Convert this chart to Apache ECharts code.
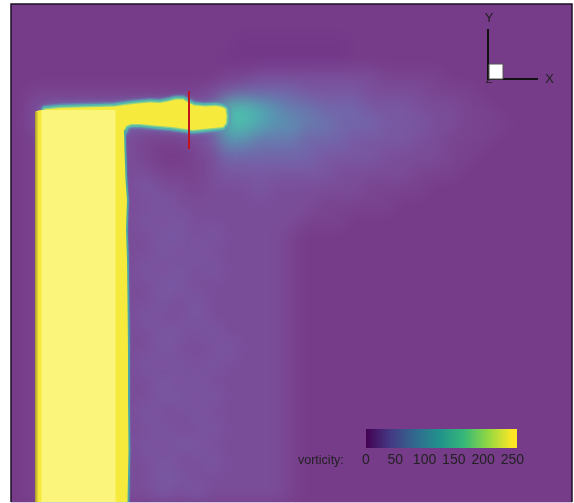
<!DOCTYPE html>
<html>
<head>
<meta charset="utf-8">
<script src="https://cdn.jsdelivr.net/npm/echarts@6/dist/echarts.min.js"></script>
<style>
  html, body { margin: 0; padding: 0; background: #fff; }
  #wrap { position: relative; width: 574px; height: 503px; overflow: hidden; background: #fff; }
  #fieldClip { position: absolute; left: 11px; top: 4px; width: 561px; height: 498px; overflow: hidden; background: #763b89; }
  #field { position: absolute; left: -30px; top: -30px; width: 621px; height: 558px; filter: blur(8px); }
  #main { position: absolute; left: 0; top: 0; width: 574px; height: 503px; }
</style>
</head>
<body>
<div id="wrap">
  <div id="fieldClip"><div id="field"></div></div>
  <div id="main"></div>
</div>
<script>
// ---- coarse vorticity field (35 x 31 cells, row 0 at the top) ----
// each row is run-length coded: "level*count", level indexes fieldLevels
const fieldCols = 35;
const fieldLevels = [0, 10, 20, 30, 40, 55, 70, 90, 115, 140];
const fieldColors = ['#743889', '#763b89', '#79438f', '#7a4d99', '#7958a2',
                     '#7266aa', '#6879ae', '#5a92b1', '#4faab1', '#4dbead'];
const fieldRows = [
  '1*35',
  '1*35',
  '1*14 0*7 1*14',
  '1*13 0*8 1*14',
  '1*13 2*2 3*8 2*4 1*8',
  '1 2*11 3 4 5*4 4*4 3*4 2*3 1*6',
  '1 3 4*11 9*2 8 7 6*2 5*3 4*3 3*3 2*2 1*5',
  '1 3 4*11 9*2 8 7*2 6*2 5*3 4*3 3*2 2*3 1*4',
  '1 2 3*6 2*3 3 4 7*2 6*3 5*3 4*4 3*2 2*3 1*5',
  '1 2 3*6 2 1*2 2 3 5*6 4*4 3*4 2*2 1*6',
  '1 2 3*6 3 2*3 3 4*7 3*5 2*3 1*7',
  '1 2 3*6 4 3*2 2 3*3 4 3*6 2*4 1*9',
  '1 2 3*6 3 4 3*9 2*5 1*11',
  '1 2 3*6 4 3 4 3*7 2*3 1*14',
  '1 2 3*6 3 4*2 3 4 3*4 2 1*17',
  '1 2 3*6 3 4 3 4 3*5 2 1*17',
  '1 2 3*6 4 3 4 3 4 3*4 2 1*17',
  '1 2 3*6 3 4*2 3*6 2 1*17',
  '1 2 3*6 3 4 3 4 3*5 2 1*17',
  '1 2 3*6 4 3*2 4 3*5 2 1*17',
  '1 2 3*6 3 4*2 3 4 3*4 2 1*17',
  '1 2 3*6 3 4 3*3 4 3*3 2 1*17',
  '1 2 3*6 4 3 4 3 4 3*4 2 1*17',
  '1 2 3*6 3 4 3 4 3*5 2 1*17',
  '1 2 3*6 3 4*2 3 4 3*4 2 1*17',
  '1 2 3*6 4 3*2 4 3*5 2 1*17',
  '1 2 3*6 3 4 3*2 4 3*4 2 1*17',
  '1 2 3*6 4 3 4*2 3*5 2 1*17',
  '1 2 3*6 3 4 3*2 4 3*4 2 1*17',
  '1 2 3*6 3 4*2 3*6 2 1*17',
  '1 2 3*6 3 4 3 4 3*5 2 1*17'
];

// ---- high-vorticity region (>= 250), plot units: x 0..56.1, y 0..49.8 ----
const columnLeft = [[2.4, 0], [2.4, 39.0]];
const armUpper = [[2.7, 39.15], [3.4, 39.25], [5.0, 39.4], [6.9, 39.45], [8.9, 39.5],
  [10.4, 39.55], [11.1, 39.65], [12.2, 39.8], [13.9, 39.95], [14.9, 39.9], [15.7, 40.05],
  [16.5, 40.25], [17.2, 40.25], [17.7, 39.95], [18.3, 39.65], [19.4, 39.55], [20.4, 39.6],
  [21.1, 39.5], [21.45, 39.3], [21.55, 38.6], [21.5, 37.9]];
const armLower = [[21.2, 37.5], [20.2, 37.4], [19.2, 37.3], [18.2, 37.2], [17.5, 37.3],
  [16.1, 37.5], [14.4, 37.65], [12.9, 37.8], [12.0, 37.8], [11.5, 37.6], [11.3, 37.1]];
const columnRight = [[11.35, 35.2], [11.45, 32.2], [11.6, 30.2], [11.5, 27.2], [11.6, 24.2],
  [11.65, 20.2], [11.7, 15.2], [11.7, 10.2], [11.75, 5.2], [11.65, 0]];
const columnCore = [[3.05, 10.45, 0, 39.2]];     // brighter interior band
const columnShade = [[2.4, 2.75, 0, 39.0]];      // shaded left rim
const probeLine = [[17.8, 41.1], [17.8, 35.3]];

// ---- colour bar ----
const colorbarMax = 258;
const colorbarValues = [0, 42, 83, 125, 167, 208, 250];
const colorbarColors = ['#440154', '#443983', '#31688e', '#21918c', '#35b779', '#90d743', '#fde725'];

const FONT = '"Liberation Sans", Arial, sans-serif';

// decode the run-length rows into heatmap cells
function decodeRow(s) {
  const out = [];
  s.trim().split(/\s+/).forEach(function (tok) {
    const parts = tok.split('*');
    const n = parts.length > 1 ? +parts[1] : 1;
    for (let i = 0; i < n; i++) out.push(+parts[0]);
  });
  while (out.length < fieldCols) out.push(1);
  return out.slice(0, fieldCols);
}
const fieldData = [];
fieldRows.forEach(function (s, r) {
  decodeRow(s).forEach(function (lv, c) { fieldData.push([c, r, fieldLevels[lv]]); });
});
const colIdx = Array.from({ length: fieldCols }, (_, i) => i);
const rowIdx = fieldRows.map((_, i) => i);

const fieldChart = echarts.init(document.getElementById('field'), null, { renderer: 'canvas' });
fieldChart.setOption({
  animation: false,
  backgroundColor: '#763b89',
  grid: { left: 30, top: 30, width: 561, height: 498 },
  xAxis: { type: 'category', data: colIdx, show: false },
  yAxis: { type: 'category', data: rowIdx, inverse: true, show: false },
  visualMap: {
    type: 'piecewise', show: false, dimension: 2,
    pieces: fieldLevels.map((v, i) => ({ value: v, color: fieldColors[i] }))
  },
  series: [{ type: 'heatmap', data: fieldData, itemStyle: { borderWidth: 0 }, emphasis: { disabled: true } }]
});

// ---- contours, probe, colour bar and annotations ----
const outline = columnLeft.concat(armUpper, armLower, columnRight);
const armEdge = armUpper.slice(1).concat(armLower);
const columnEdge = armLower.slice(-1).concat(columnRight);

function polygonItem(points, fill) {
  return function (params, api) {
    if (params.dataIndex !== 0) return null;
    return { type: 'polygon', shape: { points: points.map(p => api.coord(p)) }, style: { fill: fill } };
  };
}
function rectItem(fillFn) {
  return function (params, api) {
    const a = api.coord([api.value(0), api.value(3)]);
    const b = api.coord([api.value(1), api.value(2)]);
    return { type: 'rect', shape: { x: a[0], y: a[1], width: b[0] - a[0], height: b[1] - a[1] }, style: { fill: fillFn() } };
  };
}
const stops = colorbarValues.map((v, i) => ({ offset: v / colorbarMax, color: colorbarColors[i] }));
stops.push({ offset: 1, color: colorbarColors[colorbarColors.length - 1] });

const mainChart = echarts.init(document.getElementById('main'), null, { renderer: 'canvas' });
mainChart.setOption({
  animation: false,
  grid: [
    { left: 11, top: 4, width: 561, height: 498 },
    { left: 366, top: 429, width: 151, height: 19 }
  ],
  xAxis: [
    { type: 'value', gridIndex: 0, min: 0, max: 56.1, show: false },
    { type: 'value', gridIndex: 1, min: 0, max: colorbarMax, interval: 50,
      axisLine: { show: false }, axisTick: { show: false }, splitLine: { show: false },
      axisLabel: { fontSize: 14, color: '#222', margin: 5, fontFamily: FONT,
        formatter: v => (v > 250 ? '' : String(v)) } }
  ],
  yAxis: [
    { type: 'value', gridIndex: 0, min: 0, max: 49.8, show: false },
    { type: 'value', gridIndex: 1, min: 0, max: 1, show: false }
  ],
  series: [
    { type: 'line', name: 'arm halo', data: armEdge, showSymbol: false, symbol: 'none', z: 2,
      lineStyle: { width: 9, color: 'rgba(100,130,180,0.55)', cap: 'round', join: 'round',
        shadowBlur: 6, shadowColor: 'rgba(100,140,185,0.8)' } },
    { type: 'line', name: 'arm edge', data: armEdge, showSymbol: false, symbol: 'none', z: 2,
      lineStyle: { width: 6, color: '#55b6aa', cap: 'round', join: 'round',
        shadowBlur: 3, shadowColor: '#5aaab0' } },
    { type: 'line', name: 'arm edge inner', data: armEdge, showSymbol: false, symbol: 'none', z: 2,
      lineStyle: { width: 2.5, color: '#93d487', cap: 'round', join: 'round' } },
    { type: 'line', name: 'column edge', data: columnEdge, showSymbol: false, symbol: 'none', z: 2,
      lineStyle: { width: 3.5, color: '#4aaaa8', cap: 'round', join: 'round',
        shadowBlur: 2, shadowColor: '#5a8ab0' } },
    { type: 'custom', name: 'vorticity 250', data: [[0, 0]], z: 3,
      renderItem: polygonItem(outline, '#f6ea3c') },
    { type: 'custom', name: 'core', data: columnCore, z: 4, encode: { x: [0, 1], y: [2, 3] },
      renderItem: rectItem(() => '#fcf57c') },
    { type: 'custom', name: 'rim', data: columnShade, z: 5, encode: { x: [0, 1], y: [2, 3] },
      renderItem: rectItem(() => new echarts.graphic.LinearGradient(0, 0, 1, 0,
        [{ offset: 0, color: '#a99a2a' }, { offset: 1, color: '#f2e63c' }])) },
    { type: 'line', name: 'probe', data: probeLine, showSymbol: false, symbol: 'none', z: 6,
      lineStyle: { width: 2, color: '#c3121c' } },
    { type: 'custom', name: 'colorbar', xAxisIndex: 1, yAxisIndex: 1, data: [[0, colorbarMax, 0, 1]],
      encode: { x: [0, 1], y: [2, 3] },
      renderItem: rectItem(() => new echarts.graphic.LinearGradient(0, 0, 1, 0, stops)) }
  ],
  graphic: [
    { type: 'polyline', silent: true, z: 100,
      shape: { points: [[11, 502], [11, 4], [572, 4], [572, 502]] },
      style: { stroke: '#1c1022', lineWidth: 1.5, fill: null } },
    { type: 'line', silent: true, z: 100, shape: { x1: 11, y1: 502.5, x2: 572, y2: 502.5 },
      style: { stroke: '#d6c4df', lineWidth: 1 } },
    { type: 'line', silent: true, z: 100, shape: { x1: 488, y1: 29, x2: 488, y2: 79 },
      style: { stroke: '#111', lineWidth: 2 } },
    { type: 'line', silent: true, z: 100, shape: { x1: 487, y1: 79, x2: 538, y2: 79 },
      style: { stroke: '#111', lineWidth: 2 } },
    { type: 'text', silent: true, z: 100, x: 489, y: 80,
      style: { text: 'Z', font: '11px ' + FONT, fill: '#222', align: 'center', verticalAlign: 'middle',
        textAlign: 'center', textVerticalAlign: 'middle' } },
    { type: 'rect', silent: true, z: 101, shape: { x: 489, y: 64, width: 14, height: 15 },
      style: { fill: '#fff', stroke: '#555', lineWidth: 1 } },
    { type: 'text', silent: true, z: 100, x: 489, y: 18,
      style: { text: 'Y', font: '13px ' + FONT, fill: '#222', align: 'center', verticalAlign: 'middle',
        textAlign: 'center', textVerticalAlign: 'middle' } },
    { type: 'text', silent: true, z: 100, x: 549.5, y: 79.5,
      style: { text: 'X', font: '13px ' + FONT, fill: '#222', align: 'center', verticalAlign: 'middle',
        textAlign: 'center', textVerticalAlign: 'middle' } },
    { type: 'text', silent: true, z: 100, x: 298, y: 461,
      style: { text: 'vorticity:', font: '12.5px ' + FONT, fill: '#222', align: 'left', verticalAlign: 'middle',
        textAlign: 'left', textVerticalAlign: 'middle' } }
  ]
});
</script>
</body>
</html>
